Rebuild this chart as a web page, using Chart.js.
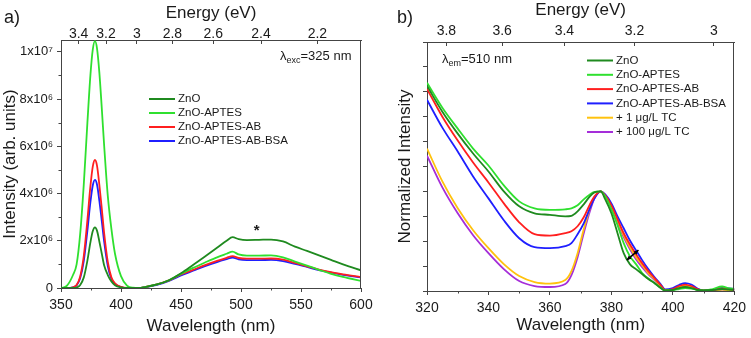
<!DOCTYPE html>
<html>
<head>
<meta charset="utf-8">
<script src="https://cdn.jsdelivr.net/npm/chart.js@4.4.1/dist/chart.umd.min.js"></script>
<style>
  html, body { margin: 0; padding: 0; background: #fff; }
  #wrap { position: relative; width: 751px; height: 338px; overflow: hidden; }
  #chartA { position: absolute; left: 0; top: 0; }
  #chartB { position: absolute; left: 380px; top: 0; }
</style>
</head>
<body>
<div id="wrap">
  <canvas id="chartA" width="380" height="338"></canvas>
  <canvas id="chartB" width="371" height="338"></canvas>
</div>
<script>
// ---- panel a: PL emission, intensity in units of 1e6 ----
const wavelengthA = [350, 355, 360, 363, 366, 369, 372, 374.5, 376.5, 378.3, 380, 382, 384, 386, 389, 392, 395, 400, 405, 410,
  415, 420, 430, 440, 450, 460, 470, 480, 488, 493, 498, 505, 515, 525, 535, 545, 555, 565, 575, 585, 600];
const znoA = [0, 0, 0, 0.02, 0.13, 0.45, 1.16, 1.93, 2.41, 2.57, 2.43, 1.96, 1.45, 0.95, 0.55, 0.28, 0.12, 0.03, 0, 0,
  0, 0.04, 0.15, 0.33, 0.62, 0.97, 1.33, 1.7, 2.0, 2.15, 2.07, 2.03, 2.04, 2.05, 1.97, 1.75, 1.57, 1.38, 1.19, 1.0, 0.75];
const aptesA = [0, 0.1, 0.55, 1.0, 2.3, 4.4, 7.0, 9.0, 10.1, 10.45, 10.15, 9.1, 7.6, 6.0, 3.9, 2.5, 1.45, 0.5, 0.1, 0.01,
  0, 0.04, 0.15, 0.33, 0.6, 0.85, 1.08, 1.3, 1.45, 1.54, 1.42, 1.37, 1.37, 1.38, 1.3, 1.12, 0.95, 0.77, 0.6, 0.47, 0.3];
const abA = [0, 0, 0.03, 0.13, 0.49, 1.36, 2.88, 4.3, 5.15, 5.42, 5.18, 4.35, 3.35, 2.3, 1.1, 0.45, 0.2, 0.05, 0, 0,
  0, 0.04, 0.15, 0.32, 0.57, 0.77, 0.97, 1.15, 1.28, 1.35, 1.27, 1.24, 1.24, 1.25, 1.2, 1.06, 0.92, 0.78, 0.67, 0.58, 0.46];
const bsaA = [0, 0, 0.03, 0.11, 0.42, 1.15, 2.43, 3.63, 4.35, 4.58, 4.38, 3.68, 2.83, 1.95, 0.93, 0.38, 0.17, 0.04, 0, 0,
  0, 0.03, 0.13, 0.3, 0.53, 0.73, 0.93, 1.1, 1.22, 1.29, 1.21, 1.18, 1.18, 1.19, 1.14, 1.02, 0.89, 0.76, 0.65, 0.56, 0.45];
const labelsA = ['ZnO', 'ZnO-APTES', 'ZnO-APTES-AB', 'ZnO-APTES-AB-BSA'];
const yTicksA = [0, 2, 4, 6, 8, 10];
const yTickLabelsA = ['0', '2x10\u2076', '4x10\u2076', '6x10\u2076', '8x10\u2076', '1x10\u2077'];
const energyTicksA = [3.4, 3.2, 3.0, 2.8, 2.6, 2.4, 2.2];
const energyLabelsA = ['3.4', '3.2', '3', '2.8', '2.6', '2.4', '2.2'];
const minorXA = [375, 425, 475, 525, 575];
const minorYA = [1, 3, 5, 7, 9];

// ---- panel b: PLE, normalized ----
const wavelengthB = [320, 325, 330, 335, 340, 345, 350, 355, 360, 365, 367, 369, 371, 373, 374.5, 376.5, 378, 380, 382, 384,
  386, 388, 390, 392, 394, 396, 397.5, 400, 402, 404, 406, 408, 410, 413, 416, 418, 420];
const znoB = [2.06, 1.8, 1.58, 1.38, 1.2, 1.0, 0.85, 0.78, 0.765, 0.75, 0.755, 0.8, 0.87, 0.95, 0.99, 1.0, 0.92, 0.78, 0.58, 0.38,
  0.27, 0.22, 0.17, 0.12, 0.08, 0.03, 0.005, 0.01, 0.03, 0.04, 0.03, 0.01, 0.005, 0.01, 0.02, 0.015, 0.01];
const aptesB = [2.09, 1.84, 1.63, 1.43, 1.26, 1.06, 0.9, 0.83, 0.815, 0.82, 0.83, 0.86, 0.92, 0.97, 0.995, 1.0, 0.95, 0.82, 0.66, 0.48,
  0.35, 0.27, 0.18, 0.125, 0.08, 0.035, 0.005, 0.01, 0.02, 0.03, 0.025, 0.01, 0.005, 0.02, 0.045, 0.03, 0.02];
const abB = [2.03, 1.75, 1.51, 1.29, 1.09, 0.88, 0.69, 0.57, 0.555, 0.58, 0.6, 0.65, 0.74, 0.87, 0.95, 1.0, 0.96, 0.86, 0.72, 0.58,
  0.47, 0.37, 0.28, 0.2, 0.13, 0.06, 0.01, 0.02, 0.05, 0.065, 0.05, 0.02, 0.005, 0.01, 0.025, 0.02, 0.015];
const bsaB = [1.92, 1.64, 1.4, 1.15, 0.93, 0.71, 0.53, 0.44, 0.43, 0.45, 0.48, 0.57, 0.68, 0.83, 0.93, 1.0, 0.97, 0.88, 0.75, 0.63,
  0.51, 0.41, 0.31, 0.22, 0.14, 0.07, 0.015, 0.03, 0.06, 0.08, 0.065, 0.025, 0.005, 0.01, 0.03, 0.025, 0.02];
const tc1B = [1.43, 1.1, 0.83, 0.61, 0.43, 0.27, 0.15, 0.09, 0.075, 0.11, 0.2, 0.38, 0.62, 0.83, 0.94, 1.0, 0.95, 0.85, 0.71, 0.56,
  0.44, 0.34, 0.26, 0.18, 0.12, 0.05, 0.01, 0.02, 0.04, 0.055, 0.04, 0.015, 0, 0.005, 0.015, 0.01, 0.01];
const tc100B = [1.36, 1.04, 0.78, 0.56, 0.38, 0.22, 0.1, 0.05, 0.04, 0.07, 0.16, 0.34, 0.58, 0.8, 0.93, 1.0, 0.95, 0.84, 0.69, 0.54,
  0.42, 0.32, 0.24, 0.17, 0.11, 0.045, 0.01, 0.02, 0.04, 0.05, 0.035, 0.01, 0, 0.005, 0.015, 0.01, 0.01];
const labelsB = ['ZnO', 'ZnO-APTES', 'ZnO-APTES-AB', 'ZnO-APTES-AB-BSA', '+ 1 \u03bcg/L TC', '+ 100 \u03bcg/L TC'];
const energyTicksB = [3.8, 3.6, 3.4, 3.2, 3.0];
const energyLabelsB = ['3.8', '3.6', '3.4', '3.2', '3'];
const minorXB = [330, 350, 370, 390, 410];

const colors = ['#1f8a1f', '#2fe02f', '#ff1f1f', '#1f1fff', '#ffc20e', '#a52ed9'];
const axisColor = '#444';
const textColor = '#1a1a1a';
const FONT = '"Liberation Sans", Arial, Helvetica, sans-serif';

function series(label, color, xs, ys) {
  return {
    label: label,
    data: xs.map((x, i) => ({ x: x, y: ys[i] })),
    borderColor: color,
    backgroundColor: color,
    borderWidth: 1.8,
    pointRadius: 0,
    fill: false,
    cubicInterpolationMode: 'monotone'
  };
}

function fixSize(prop, size) {
  return scale => { scale[prop] = size; };
}

// legend, labels and extra marks drawn on top of the chart
function decorations(opts) {
  return {
    id: 'decor' + opts.tag,
    afterDraw(chart) {
      const { ctx, chartArea: a, scales } = chart;
      ctx.save();
      // minor ticks + right frame
      ctx.strokeStyle = axisColor;
      ctx.lineWidth = 1;
      ctx.beginPath();
      opts.minorX.forEach(v => {
        const px = Math.round(scales.x.getPixelForValue(v)) + 0.5;
        ctx.moveTo(px, a.bottom); ctx.lineTo(px, a.bottom + 2.5);
      });
      opts.minorY.forEach(v => {
        const py = Math.round(scales.y.getPixelForValue(v)) + 0.5;
        ctx.moveTo(a.left - 2.5, py); ctx.lineTo(a.left, py);
      });
      const rx = Math.round(a.right) - 0.5;
      ctx.moveTo(rx, a.top); ctx.lineTo(rx, a.bottom);
      ctx.stroke();

      // legend
      ctx.font = '11.5px ' + FONT;
      ctx.textBaseline = 'middle';
      chart.data.datasets.forEach((ds, i) => {
        const y = opts.legendY + i * opts.legendRow;
        ctx.strokeStyle = ds.borderColor;
        ctx.lineWidth = 2;
        ctx.beginPath();
        ctx.moveTo(opts.legendX, y); ctx.lineTo(opts.legendX + 26, y);
        ctx.stroke();
        ctx.fillStyle = textColor;
        ctx.fillText(ds.label, opts.legendX + 29, y);
      });

      // panel letter
      ctx.textBaseline = 'alphabetic';
      ctx.font = '18px ' + FONT;
      ctx.fillText(opts.panel, opts.panelX, 23);

      // lambda annotation
      let x = opts.lamX;
      ctx.font = '13px ' + FONT;
      ctx.fillText('\u03bb', x, opts.lamY);
      x += ctx.measureText('\u03bb').width;
      ctx.font = '9px ' + FONT;
      ctx.fillText(opts.lamSub, x, opts.lamY + 3);
      x += ctx.measureText(opts.lamSub).width;
      ctx.font = '13px ' + FONT;
      ctx.fillText(opts.lamText, x, opts.lamY);

      if (opts.extra) opts.extra(chart, ctx);
      ctx.restore();
    }
  };
}

function energyScale(ticksE, labelsE, min, max, pad, titlePad, height) {
  return {
    type: 'linear', position: 'top', min: min, max: max,
    afterBuildTicks: s => { s.ticks = ticksE.map(e => ({ value: 1240 / e })); },
    afterFit: fixSize('height', height),
    ticks: {
      autoSkip: false, maxRotation: 0, padding: pad, color: textColor,
      font: { size: 14, family: FONT },
      callback: (v, i) => labelsE[i]
    },
    grid: { drawOnChartArea: false, tickLength: -4, color: axisColor },
    border: { color: axisColor },
    title: { display: true, text: 'Energy (eV)', color: textColor,
      font: { size: 17, family: FONT, lineHeight: 1 }, padding: { top: titlePad, bottom: 0 } }
  };
}

new Chart(document.getElementById('chartA'), {
  type: 'line',
  data: {
    datasets: [
      series(labelsA[0], colors[0], wavelengthA, znoA),
      series(labelsA[1], colors[1], wavelengthA, aptesA),
      series(labelsA[2], colors[2], wavelengthA, abA),
      series(labelsA[3], colors[3], wavelengthA, bsaA)
    ]
  },
  options: {
    responsive: false,
    animation: false,
    devicePixelRatio: 1,
    layout: { padding: { left: 0, right: 19, top: 0, bottom: 0 } },
    plugins: { legend: { display: false }, tooltip: { enabled: false } },
    scales: {
      x: {
        type: 'linear', position: 'bottom', min: 350, max: 600,
        afterFit: fixSize('height', 50),
        ticks: { stepSize: 50, padding: 5, color: textColor, maxRotation: 0, font: { size: 14, family: FONT } },
        grid: { drawOnChartArea: false, tickLength: 4, color: axisColor },
        border: { color: axisColor },
        title: { display: true, text: 'Wavelength (nm)', color: textColor,
          font: { size: 17, family: FONT, lineHeight: 1 }, padding: { top: 0, bottom: 3 } }
      },
      x2: energyScale(energyTicksA, energyLabelsA, 350, 600, 1, 5, 40),
      y: {
        type: 'linear', position: 'left', min: 0, max: 10.5,
        afterBuildTicks: s => { s.ticks = yTicksA.map(v => ({ value: v })); },
        afterFit: fixSize('width', 61),
        ticks: { padding: 4, color: textColor, font: { size: 13, family: FONT },
          callback: (v, i) => yTickLabelsA[i] },
        grid: { drawOnChartArea: false, tickLength: 4, color: axisColor },
        border: { color: axisColor },
        title: { display: true, text: 'Intensity (arb. units)', color: textColor,
          font: { size: 17, family: FONT, lineHeight: 1 }, padding: { top: 2, bottom: 0 } }
      }
    }
  },
  plugins: [decorations({
    tag: 'A', minorX: minorXA, minorY: minorYA,
    legendX: 149, legendY: 99, legendRow: 14,
    panel: 'a)', panelX: 4,
    lamX: 280, lamY: 60, lamSub: 'exc', lamText: '=325 nm',
    extra: (chart, ctx) => {
      ctx.font = 'bold 15px ' + FONT;
      ctx.textAlign = 'center';
      ctx.textBaseline = 'middle';
      ctx.fillText('*', chart.scales.x.getPixelForValue(513), chart.scales.y.getPixelForValue(2.4));
    }
  })]
});

new Chart(document.getElementById('chartB'), {
  type: 'line',
  data: {
    datasets: [
      series(labelsB[0], colors[0], wavelengthB, znoB),
      series(labelsB[1], colors[1], wavelengthB, aptesB),
      series(labelsB[2], colors[2], wavelengthB, abB),
      series(labelsB[3], colors[3], wavelengthB, bsaB),
      series(labelsB[4], colors[4], wavelengthB, tc1B),
      series(labelsB[5], colors[5], wavelengthB, tc100B)
    ]
  },
  options: {
    responsive: false,
    animation: false,
    devicePixelRatio: 1,
    layout: { padding: { left: 0, right: 12, top: 0, bottom: 0 } },
    plugins: { legend: { display: false }, tooltip: { enabled: false } },
    scales: {
      x: {
        type: 'linear', position: 'bottom', min: 320, max: 420,
        afterFit: fixSize('height', 47),
        ticks: { stepSize: 20, padding: 5, color: textColor, maxRotation: 0, font: { size: 14, family: FONT } },
        grid: { drawOnChartArea: false, tickLength: 4, color: axisColor },
        border: { color: axisColor },
        title: { display: true, text: 'Wavelength (nm)', color: textColor,
          font: { size: 17, family: FONT, lineHeight: 1 }, padding: { top: 0, bottom: 4 } }
      },
      x2: energyScale(energyTicksB, energyLabelsB, 320, 420, 6, 2, 42),
      y: {
        type: 'linear', position: 'left', min: 0, max: 2.5,
        afterFit: fixSize('width', 47),
        ticks: { stepSize: 0.25, display: false },
        grid: { drawOnChartArea: false, tickLength: 4, color: axisColor },
        border: { color: axisColor },
        title: { display: true, text: 'Normalized Intensity', color: textColor,
          font: { size: 17, family: FONT, lineHeight: 1 }, padding: { top: 17, bottom: 0 } }
      }
    }
  },
  plugins: [decorations({
    tag: 'B', minorX: minorXB, minorY: [],
    legendX: 207, legendY: 60.5, legendRow: 14.3,
    panel: 'b)', panelX: 17,
    lamX: 62, lamY: 63, lamSub: 'em', lamText: '=510 nm',
    extra: (chart, ctx) => {
      // arrow across the falling edge of the peaks
      const sx = chart.scales.x, sy = chart.scales.y;
      const x1 = sx.getPixelForValue(385.0), y1 = sy.getPixelForValue(0.31);
      const x2 = sx.getPixelForValue(388.8), y2 = sy.getPixelForValue(0.41);
      ctx.strokeStyle = '#000';
      ctx.fillStyle = '#000';
      ctx.lineWidth = 1.5;
      ctx.beginPath(); ctx.moveTo(x1, y1); ctx.lineTo(x2, y2); ctx.stroke();
      const ang = Math.atan2(y2 - y1, x2 - x1);
      [[x2, y2, ang], [x1, y1, ang + Math.PI]].forEach(([hx, hy, t]) => {
        ctx.beginPath();
        ctx.moveTo(hx, hy);
        ctx.lineTo(hx - 5 * Math.cos(t - 0.45), hy - 5 * Math.sin(t - 0.45));
        ctx.lineTo(hx - 5 * Math.cos(t + 0.45), hy - 5 * Math.sin(t + 0.45));
        ctx.closePath(); ctx.fill();
      });
    }
  })]
});
</script>
</body>
</html>
